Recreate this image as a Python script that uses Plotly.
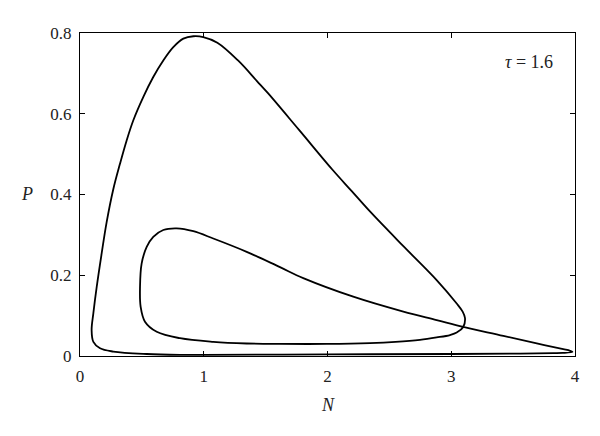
import plotly.graph_objects as go

# Phase-plane trajectory (N, P)
N_vals = [0.094, 0.108, 0.135, 0.175, 0.215, 0.269, 0.323, 0.377, 0.431,
          0.512, 0.592, 0.673, 0.754, 0.835, 0.916, 0.996, 1.110, 1.277, 1.430,
          1.519, 1.770, 2.044, 2.194, 2.343, 2.613, 2.882, 3.044, 3.092, 3.111,
          3.097, 3.044, 2.990, 2.882, 2.747, 2.550, 2.343, 1.994, 1.616, 1.347,
          1.077, 0.808, 0.620, 0.525, 0.490, 0.485, 0.498, 0.539, 0.592, 0.673,
          0.781, 0.916, 1.077, 1.347, 1.616, 1.804, 2.208, 2.613, 2.882, 3.097,
          3.421, 3.691, 3.905, 3.960, 3.980, 3.900, 3.825, 3.556, 3.000, 2.000,
          1.000, 0.808, 0.539, 0.269, 0.162, 0.108, 0.094]
P_vals = [0.064, 0.106, 0.171, 0.254, 0.331, 0.413, 0.476, 0.534, 0.584,
          0.642, 0.691, 0.732, 0.765, 0.786, 0.792, 0.790, 0.776, 0.732, 0.681,
          0.651, 0.560, 0.460, 0.409, 0.358, 0.272, 0.188, 0.130, 0.110, 0.094,
          0.072, 0.058, 0.052, 0.046, 0.040, 0.035, 0.032, 0.030, 0.030, 0.031,
          0.035, 0.044, 0.060, 0.085, 0.122, 0.171, 0.229, 0.270, 0.295, 0.312,
          0.316, 0.309, 0.291, 0.258, 0.220, 0.193, 0.147, 0.110, 0.089, 0.072,
          0.050, 0.031, 0.017, 0.013, 0.010, 0.0075, 0.007, 0.006, 0.005, 0.004,
          0.003, 0.003, 0.005, 0.011, 0.019, 0.035, 0.064]

x_ticks = [0, 1, 2, 3, 4]
y_ticks = [0, 0.2, 0.4, 0.6, 0.8]
y_tick_text = ["0", "0.2", "0.4", "0.6", "0.8"]

font_family = "Liberation Serif"

fig = go.Figure()
fig.add_trace(go.Scatter(
    x=N_vals, y=P_vals, mode="lines",
    line=dict(color="black", width=1.8, shape="spline", smoothing=1.0),
    showlegend=False, hoverinfo="skip",
))

axis_common = dict(
    showline=True, linecolor="black", linewidth=1.3, mirror="ticks",
    ticks="inside", ticklen=5, tickwidth=1, tickcolor="black",
    showgrid=False, zeroline=False,
    tickfont=dict(family=font_family, size=17, color="#222"),
)

fig.update_xaxes(range=[0, 4], tickvals=x_ticks, ticktext=[str(v) for v in x_ticks],
                 ticklabelstandoff=4, **axis_common)
fig.update_yaxes(range=[0, 0.8], tickvals=y_ticks, ticktext=y_tick_text,
                 ticklabelstandoff=4, **axis_common)

fig.add_annotation(text="<i>P</i>", xref="paper", yref="paper", x=-0.107, y=0.503,
                   xanchor="center", yanchor="middle", showarrow=False,
                   font=dict(family=font_family, size=18, color="#222"))
fig.add_annotation(text="<i>N</i>", xref="paper", yref="paper", x=0.5, y=-0.152,
                   xanchor="center", yanchor="middle", showarrow=False,
                   font=dict(family=font_family, size=18, color="#222"))
fig.add_annotation(text="<i>τ</i> = 1.6", xref="paper", yref="paper", x=0.96, y=0.909,
                   xanchor="right", yanchor="middle", showarrow=False,
                   font=dict(family=font_family, size=18, color="#222"))

fig.update_layout(
    width=600, height=436,
    margin=dict(l=72, r=33, t=25, b=88),
    paper_bgcolor="white", plot_bgcolor="white",
)

fig.write_html("out.html")
